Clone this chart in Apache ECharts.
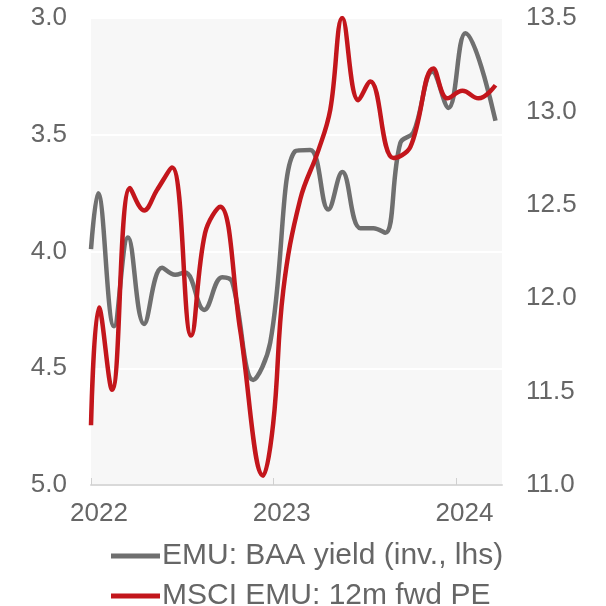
<!DOCTYPE html>
<html>
<head>
<meta charset="utf-8">
<script src="https://cdn.jsdelivr.net/npm/echarts@6/dist/echarts.min.js"></script>
<style>html,body{margin:0;padding:0;background:#fff;}#c{width:606px;height:606px;}</style>
</head>
<body>
<div id="c"></div>
<script>
// EMU: BAA yield (inverted, lhs)
const baaDates = ['2022-01-01','2022-01-15','2022-02-16','2022-03-16','2022-04-17','2022-05-23','2022-06-18','2022-07-08','2022-08-15','2022-09-20','2022-10-10','2022-11-21','2022-12-25','2023-02-13','2023-03-15','2023-04-20','2023-05-18','2023-06-23','2023-07-19','2023-08-12','2023-09-11','2023-10-07','2023-11-14','2023-12-16','2024-01-19','2024-03-19'];
const baaValues = [3.99,3.75,4.32,3.94,4.31,4.07,4.10,4.09,4.25,4.11,4.13,4.55,4.39,3.57,3.565,3.82,3.66,3.90,3.90,3.92,3.535,3.49,3.23,3.385,3.065,3.44];
// MSCI EMU: 12m fwd PE (rhs)
const peDates = ['2022-01-01','2022-01-17','2022-02-12','2022-03-20','2022-04-17','2022-05-13','2022-06-12','2022-07-20','2022-08-17','2022-09-16','2022-10-26','2022-12-11','2022-12-31','2023-01-20','2023-02-23','2023-03-31','2023-04-24','2023-05-18','2023-06-19','2023-07-13','2023-08-28','2023-10-01','2023-11-16','2023-12-14','2024-01-13','2024-02-14','2024-03-19'];
const peValues = [11.32,11.95,11.51,12.59,12.47,12.58,12.70,11.80,12.35,12.49,11.83,11.05,11.33,12.04,12.53,12.79,13.01,13.5,13.06,13.16,12.75,12.81,13.23,13.07,13.11,13.07,13.14];
const xStart = '2022-01-01';
const xEnd = '2024-04-01';
const leftTicks = [3.0, 3.5, 4.0, 4.5, 5.0];
const rightTicks = [11.0, 11.5, 12.0, 12.5, 13.0, 13.5];
const seriesNames = ['EMU: BAA yield (inv., lhs)', 'MSCI EMU: 12m fwd PE'];

const ts = d => new Date(d).getTime();
const DAY = 86400000;
const chart = echarts.init(document.getElementById('c'));
const labelColor = '#666666';
const font = 'Liberation Sans, Arial, sans-serif';
const legendBase = {
  orient: 'horizontal', left: 106, icon: 'rect',
  itemWidth: 49, itemHeight: 5, itemGap: 0,
  textStyle: { fontSize: 30, color: labelColor, fontFamily: font, padding: [0, 0, 0, -3] }
};
chart.setOption({
  animation: false,
  backgroundColor: '#ffffff',
  grid: { left: 91, right: 104, top: 18, bottom: 121, show: true, backgroundColor: '#f7f7f7', borderWidth: 0 },
  legend: [
    Object.assign({}, legendBase, { top: 536, data: [seriesNames[0]] }),
    Object.assign({}, legendBase, { top: 576, data: [seriesNames[1]] })
  ],
  xAxis: {
    type: 'value', min: ts(xStart), max: ts(xEnd), interval: 365 * DAY,
    axisLine: { show: true, lineStyle: { color: '#d9d9d9', width: 2 } },
    axisTick: { show: true, inside: true, length: 7, lineStyle: { color: '#d0d0d0' } },
    splitLine: { show: false },
    axisLabel: {
      showMaxLabel: false, fontSize: 26, color: labelColor, fontFamily: font, margin: 16,
      padding: [0, 0, 0, 16],
      formatter: v => String(new Date(v).getUTCFullYear())
    }
  },
  yAxis: [
    {
      type: 'value', inverse: true, min: leftTicks[0], max: leftTicks[leftTicks.length-1], interval: 0.5,
      axisLine: { show: false }, axisTick: { show: false },
      splitLine: { show: true, lineStyle: { color: '#ffffff', width: 2 } },
      axisLabel: { fontSize: 26, color: labelColor, fontFamily: font, margin: 24, formatter: v => v.toFixed(1) }
    },
    {
      type: 'value', position: 'right', min: rightTicks[0], max: rightTicks[rightTicks.length-1], interval: 0.5,
      axisLine: { show: false }, axisTick: { show: false }, splitLine: { show: false },
      axisLabel: { fontSize: 26, color: labelColor, fontFamily: font, margin: 24, formatter: v => v.toFixed(1) }
    }
  ],
  series: [
    {
      name: seriesNames[0], type: 'line', yAxisIndex: 0, smooth: 0.4, symbol: 'none',
      lineStyle: { color: '#6f6f6f', width: 4.5 }, itemStyle: { color: '#6f6f6f' },
      data: baaDates.map((d, i) => [ts(d), baaValues[i]])
    },
    {
      name: seriesNames[1], type: 'line', yAxisIndex: 1, smooth: 0.4, symbol: 'none',
      lineStyle: { color: '#c3161c', width: 4.5 }, itemStyle: { color: '#c3161c' },
      data: peDates.map((d, i) => [ts(d), peValues[i]])
    }
  ]
});
</script>
</body>
</html>
